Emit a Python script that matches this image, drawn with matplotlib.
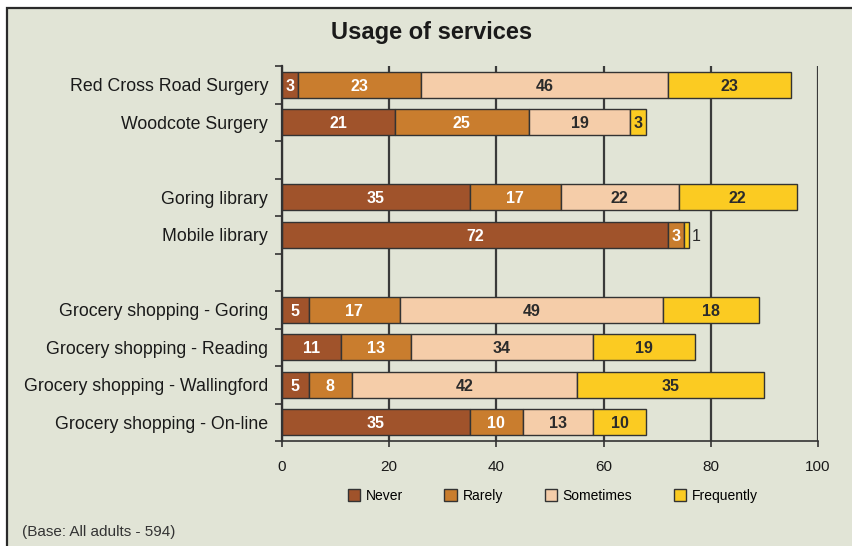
import numpy as np
import matplotlib.pyplot as plt
from matplotlib.patches import Rectangle

plt.rcParams['font.family'] = ['Liberation Sans', 'DejaVu Sans']

services = ['Red Cross Road Surgery', 'Woodcote Surgery', '',
            'Goring library', 'Mobile library', '',
            'Grocery shopping - Goring', 'Grocery shopping - Reading',
            'Grocery shopping - Wallingford', 'Grocery shopping - On-line']

# blank rows are spacers between the groups
never = [3, 21, 0, 35, 72, 0, 5, 11, 5, 35]
rarely = [23, 25, 0, 17, 3, 0, 17, 13, 8, 10]
sometimes = [46, 19, 0, 22, 0, 0, 49, 34, 42, 13]
frequently = [23, 3, 0, 22, 1, 0, 18, 19, 35, 10]

series = ['Never', 'Rarely', 'Sometimes', 'Frequently']
colors = ['#a0532b', '#c97d2e', '#f5cda9', '#fbcb22']
text_colors = ['white', 'white', '#2b2b2b', '#2b2b2b']

bg = '#e1e4d6'
dark = '#333333'

fig = plt.figure(figsize=(8.53, 5.46), dpi=100, facecolor='white')
# panel behind the chart
fig.patches.append(Rectangle((7.5 / 853, -0.1), 1.2, 1 - 7.5 / 546 + 0.1,
                             transform=fig.transFigure, facecolor=bg,
                             edgecolor='#2a2a2a', linewidth=1.6, zorder=-1))

ax = fig.add_axes([282 / 853, 1 - 441 / 546, (818 - 282) / 853, (441 - 66) / 546])
ax.set_facecolor('none')
ax.set_zorder(2)

y = np.arange(len(services))
left = np.zeros(len(services))
data = [never, rarely, sometimes, frequently]
for vals, name, c, tc in zip(data, series, colors, text_colors):
    vals = np.array(vals, dtype=float)
    keep = vals > 0
    ax.barh(y[keep], vals[keep], left=left[keep], height=0.7, color=c,
            edgecolor=dark, linewidth=1.0, label=name, zorder=3)
    for yi, v, l in zip(y[keep], vals[keep], left[keep]):
        if v < 2:
            ax.text(l + v + 0.4, yi, f'{v:.0f}', ha='left',
                    va='center_baseline', fontsize=11.5, color='#2b2b2b',
                    zorder=4)
        else:
            ax.text(l + v / 2, yi, f'{v:.0f}', ha='center',
                    va='center_baseline', fontsize=11.5, fontweight='bold',
                    color=tc, zorder=4)
    left += vals

ax.set_xlim(0, 100)
ax.set_ylim(len(services) - 0.5, -0.5)
ax.set_xticks([0, 20, 40, 60, 80, 100])
ax.set_yticks(y)
ax.set_yticklabels(services, fontsize=12.8, color='#1a1a1a')
ax.set_yticks(np.arange(-0.5, len(services), 1.0), minor=True)
ax.tick_params(axis='y', which='major', length=0, pad=10)
ax.tick_params(axis='y', which='minor', length=5, color=dark, width=1.2)
ax.tick_params(axis='x', length=4, color=dark, width=1.2, labelsize=11,
               labelcolor='#1a1a1a', pad=10)
ax.grid(axis='x', color='#3a3a3a', linewidth=1.6, zorder=1)
ax.set_axisbelow(True)
for s in ['top', 'right']:
    ax.spines[s].set_visible(False)
ax.spines['left'].set_color(dark)
ax.spines['left'].set_linewidth(1.6)
ax.spines['left'].set_zorder(5)
ax.spines['bottom'].set_color(dark)
ax.spines['bottom'].set_linewidth(1.2)

fig.text(0.506, 1 - 32 / 546, 'Usage of services', ha='center', va='center',
         fontsize=17, fontweight='bold', color='#1a1a1a')

leg = fig.legend(loc='center', bbox_to_anchor=(0.648, 1 - 496 / 546), ncol=4,
                 frameon=False, fontsize=10, handlelength=0.9, handleheight=0.9,
                 handletextpad=0.4, columnspacing=3.0)
for h in leg.legend_handles:
    h.set_edgecolor(dark)

fig.text(22 / 853, 1 - 532 / 546, '(Base: All adults - 594)', ha='left',
         va='center', fontsize=11, color='#333333')

fig.savefig('out.png', dpi=100, facecolor='white')
